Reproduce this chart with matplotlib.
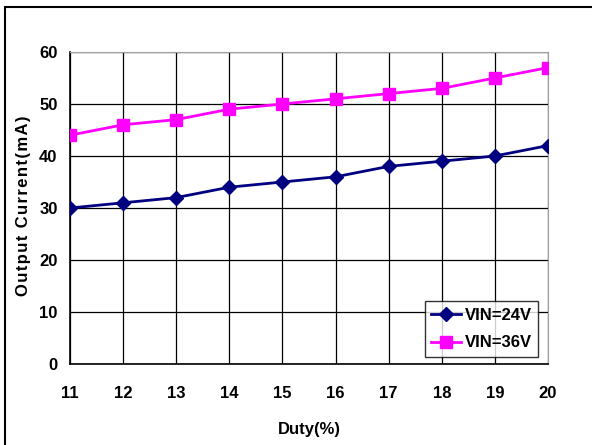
import matplotlib.pyplot as plt
from matplotlib.patches import Rectangle

duty = [11, 12, 13, 14, 15, 16, 17, 18, 19, 20]
vin24 = [30, 31, 32, 34, 35, 36, 38, 39, 40, 42]
vin36 = [44, 46, 47, 49, 50, 51, 52, 53, 55, 57]
y_ticks = [0, 10, 20, 30, 40, 50, 60]

plt.rcParams['font.family'] = ['Liberation Sans', 'DejaVu Sans']
plt.rcParams['font.weight'] = 'bold'

fig = plt.figure(figsize=(5.92, 4.45), dpi=100)
ax = fig.add_axes([70 / 592, 81 / 445, 478 / 592, 312 / 445])

# outer chart frame (runs off the right and bottom of the picture)
fig.patches.append(Rectangle((5 / 592, -0.2), 1.2, 1 - 7 / 445 + 0.2,
                             transform=fig.transFigure, fill=False,
                             edgecolor='black', linewidth=1.5))

ax.plot(duty, vin24, color='#000080', marker='D', markersize=7, linewidth=2,
        label='VIN=24V', zorder=3)
ax.plot(duty, vin36, color='#FF00FF', marker='s', markersize=8, linewidth=2,
        label='VIN=36V', zorder=3)

ax.set_xlim(11, 20)
ax.set_ylim(0, 60)
ax.set_xticks(duty)
ax.set_yticks(y_ticks)
ax.grid(True, color='black', linewidth=0.9)
ax.tick_params(axis='x', length=0, pad=16, labelsize=12)
ax.tick_params(axis='y', length=0, pad=9, labelsize=12)

for side in ['top', 'right']:
    ax.spines[side].set_color('#a0a0a0')
for side in ['left', 'bottom']:
    ax.spines[side].set_color('black')
    ax.spines[side].set_linewidth(1.2)

ax.set_xlabel('Duty(%)', fontsize=12, fontweight='bold', labelpad=15)
ylab = '\u200a'.join('Output Current(mA)')
ax.set_ylabel(ylab, fontsize=12, fontweight='bold')
ax.yaxis.set_label_coords(-0.082, 0.507)

leg = ax.legend(loc='lower right', bbox_to_anchor=(0.98, 0.022), fontsize=12,
                frameon=True, fancybox=False, edgecolor='black',
                handlelength=1.8, borderpad=0.4, labelspacing=0.75,
                handletextpad=0.2, borderaxespad=0)
leg.get_frame().set_linewidth(1)

fig.savefig('out.png', dpi=100)
